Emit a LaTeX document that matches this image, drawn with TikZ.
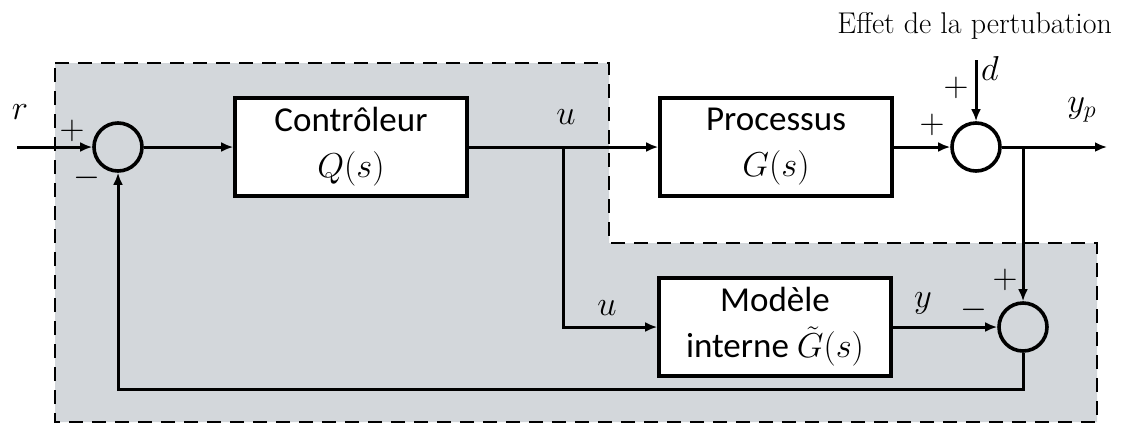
\documentclass[tikz,border=0pt]{standalone}
\usepackage{fontspec}
\usepackage{amsmath}
\usetikzlibrary{arrows.meta,positioning}
\newfontfamily\boxfont{Carlito}
\definecolor{zonegray}{RGB}{211,215,219}

\begin{document}
\begin{tikzpicture}[
    x=0.5pt, y=-0.5pt,
    block/.style={draw, line width=1.8pt, fill=white, minimum width=116pt, minimum height=49pt, align=center, inner sep=1pt, font=\boxfont\fontsize{17.5}{23}\selectfont},
    sum/.style={draw, circle, line width=1.8pt, minimum size=24pt, inner sep=0pt},
    arrow/.style={-{Latex[length=6pt,width=5pt]}, line width=1.5pt},
    wire/.style={line width=1.5pt},
    zone/.style={draw, dash pattern=on 7pt off 4.5pt, line width=1.1pt, fill=zonegray},
    every node/.style={font=\fontsize{17.5}{21}\selectfont}
]
\useasboundingbox (0,0) rectangle (1129,424);

% Shaded zone (controller side)
\draw[zone] (55,63) -- (609,63) -- (609,243) -- (1097,243) -- (1097,422) -- (55,422) -- cycle;

% Blocks and summing junctions
\node[sum] (s1) at (118,147) {};
\node[block] (ctrl) at (351,147) {Contrôleur\\$Q(s)$};
\node[block] (proc) at (776,147) {Processus\\$G(s)$};
\node[sum] (s2) at (976,147) {};
\node[block] (model) at (775,327) {Modèle\\interne $\tilde{G}(s)$};
\node[sum] (s3) at (1023,327) {};

% Free ends and branch points
\coordinate (in) at (17,147);
\coordinate (ub) at (563,147);
\coordinate (dist) at (976,60);
\coordinate (out) at (1107,147);
\coordinate (yb) at (1023,147);
\coordinate (fb) at (1023,389);

% Connections
\draw[arrow] (in) -- (s1);
\draw[arrow] (s1) -- (ctrl);
\draw[wire] (ctrl) -- (ub);
\draw[arrow] (ub) -- (proc);
\draw[arrow] (proc) -- (s2);
\draw[arrow] (dist) -- (s2);
\draw[arrow] (s2) -- (out);
\draw[arrow] (yb) -- (s3);
\draw[arrow] (ub) |- (model);
\draw[arrow] (model) -- (s3);
\draw[arrow] (s3) -- (fb) -| (s1);

% Signals and signs
\node (r) at (20,112) {$r$};
\node (p1) at (72,131) {$+$};
\node (m1) at (87,178) {$-$};
\node (u1) at (566,117) {$u$};
\node (u2) at (607,308) {$u$};
\node (p2) at (932,125) {$+$};
\node (p3) at (956,88) {$+$};
\node (d) at (990,68) {$d$};
\node (yp) at (1082,110) {$y_p$};
\node (y) at (923,303) {$y$};
\node (m3) at (974,310) {$-$};
\node (p4) at (1005,280) {$+$};
\node[anchor=base east, font=\fontsize{15}{17}\selectfont] (effet) at (1119,33) {Effet de la pertubation};

\end{tikzpicture}
\end{document}
